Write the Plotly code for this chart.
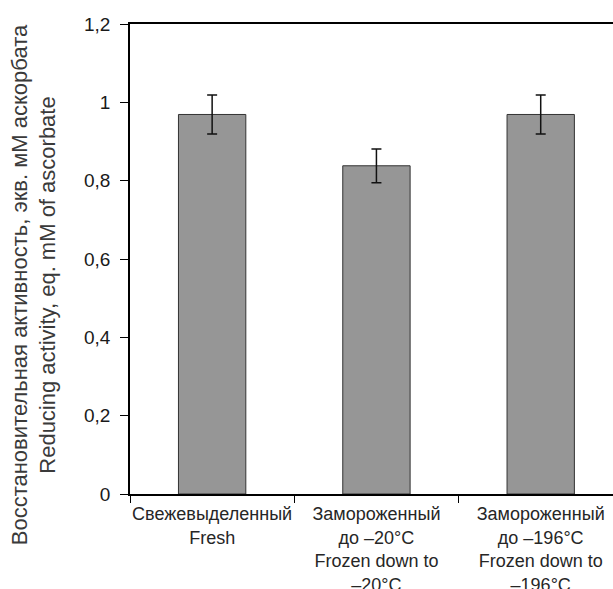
import plotly.graph_objects as go

categories = ["Свежевыделенный<br>Fresh",
              "Замороженный<br>до –20°C<br>Frozen down to<br>–20°C",
              "Замороженный<br>до –196°C<br>Frozen down to<br>–196°C"]
values = [0.969, 0.838, 0.969]
errors = [0.050, 0.043, 0.050]
y_ticks = [0, 0.2, 0.4, 0.6, 0.8, 1.0, 1.2]
y_labels = ["0", "0,2", "0,4", "0,6", "0,8", "1", "1,2"]
y_title = "Восстановительная активность, экв. мМ аскорбата<br>Reducing activity, eq. mM of ascorbate"

fig = go.Figure(go.Bar(
    x=categories, y=values,
    marker=dict(color="#969696", line=dict(color="#333333", width=1)),
    width=0.41,
    error_y=dict(type="data", array=errors, visible=True,
                 color="#111111", thickness=1.5, width=5),
))

fig.update_layout(
    width=613, height=589,
    margin=dict(l=130, r=0, t=24, b=95),
    plot_bgcolor="white", paper_bgcolor="white",
    font=dict(family="Liberation Sans, Arial, sans-serif", color="#222222"),
    showlegend=False,
    xaxis=dict(
        type="category", range=[-0.5, 2.44],
        showline=True, linecolor="black", linewidth=1.5,
        mirror=True, automargin=False, tickangle=0,
        ticks="outside", tickson="boundaries", ticklen=7, tickcolor="black",
        tickwidth=1.2, ticklabelstandoff=3,
        tickfont=dict(size=18, color="#262626"),
        showgrid=False,
    ),
    yaxis=dict(
        range=[0, 1.2], tickvals=y_ticks, ticktext=y_labels,
        showline=True, linecolor="black", linewidth=1.5, mirror=False,
        automargin=False,
        ticks="outside", ticklen=8, tickcolor="black", tickwidth=1.2,
        ticklabelstandoff=6,
        tickfont=dict(size=19, color="#1a1a1a"),
        showgrid=False, zeroline=False,
    ),
    annotations=[dict(
        text=y_title, textangle=-90, showarrow=False,
        xref="paper", yref="paper", x=-0.2, y=0.445,
        xanchor="center", yanchor="middle",
        font=dict(size=22, color="#3a3a3a"),
    )],
)

fig.write_html("out.html")
